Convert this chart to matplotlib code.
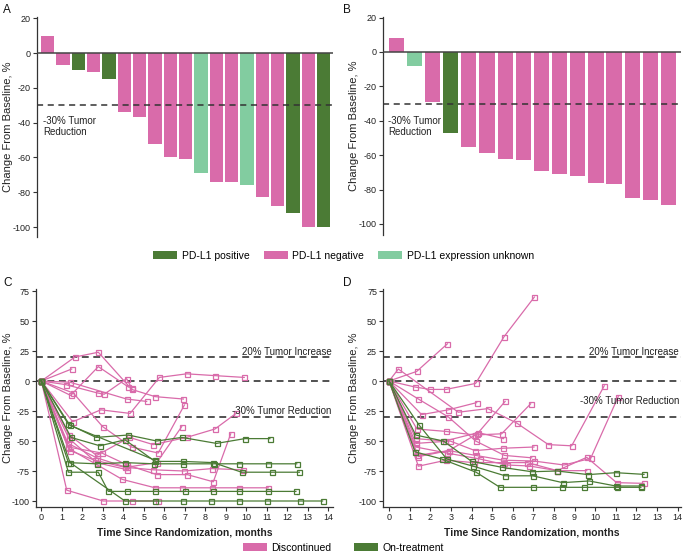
import matplotlib
matplotlib.use("Agg")
import matplotlib.pyplot as plt
from matplotlib.patches import Patch

plt.rcParams['font.family'] = ['Liberation Sans', 'DejaVu Sans']
plt.rcParams['axes.unicode_minus'] = False

PINK = '#D96BAA'
DGREEN = '#4B7B35'
LGREEN = '#82CCA0'
AXC = '#333333'

# ---------------- Data ----------------
a_change = [10, -7, -10, -11, -15, -34, -37, -52, -60, -61, -69, -74, -74, -76, -83, -88, -92, -100, -100]
a_status = ['neg', 'neg', 'pos', 'neg', 'pos', 'neg', 'neg', 'neg', 'neg', 'neg', 'unk', 'neg', 'neg', 'unk',
            'neg', 'neg', 'pos', 'neg', 'pos']
b_change = [8, -8, -29, -47, -55, -59, -62, -63, -69, -71, -72, -76, -77, -85, -86, -89]
b_status = ['neg', 'unk', 'neg', 'pos'] + ['neg'] * 12
status_labels = {'pos': 'PD-L1 positive', 'neg': 'PD-L1 negative', 'unk': 'PD-L1 expression unknown'}

c_disc_months = [
    [0, 1.64, 2.78, 4.41, 5.55, 6.93],
    [0, 1.43, 2.78, 4.25],
    [0, 1.48],
    [0, 1.19, 2.75, 3.07, 4.16, 4.41],
    [0, 1.40, 4.16, 5.14],
    [0, 1.53, 2.90, 4.33, 5.76, 7.09, 8.47, 9.90],
    [0, 1.56, 2.99, 4.40, 5.70, 6.98],
    [0, 1.35, 2.70, 4.30, 5.46, 7.09, 8.47, 9.50],
    [0, 1.40, 2.60, 4.10, 5.63, 6.85],
    [0, 1.30, 2.70, 4.16, 5.46, 6.96, 8.31, 9.82],
    [0, 1.30, 2.95, 4.20, 5.63, 7.12, 8.39, 9.24],
    [0, 1.32, 3.95, 5.55, 6.85, 8.31, 9.66, 11.07],
    [0, 1.24, 3.02, 4.41, 5.70],
    [0, 1.35, 2.70, 4.20],
]
c_disc_change = [
    [0, 20, 24, -7, -13, -15],
    [0, -12, 12, -5],
    [0, 10],
    [0, -3, -10, -11, 2, -6],
    [0, -1, -15, -17],
    [0, -34, -24, -27, 3, 6, 4.5, 3],
    [0, -10, -38, -55, -60, -20],
    [0, -45, -62, -47, -53, -47, -40, -27],
    [0, -58, -66, -72, -68, -38],
    [0, -52, -64, -72, -74, -75, -73, -74],
    [0, -55, -60, -70, -78, -78, -84, -44],
    [0, -56, -82, -89, -89, -89, -89, -89],
    [0, -91, -100, -100, -100],
    [0, -48, -68, -74],
]
c_on_months = [
    [0, 1.32, 2.67, 4.24, 5.63, 6.85, 8.55, 9.93, 11.15],
    [0, 1.45, 2.86, 4.08, 5.55, 6.90, 8.39, 9.77, 11.24, 12.59],
    [0, 1.32, 2.70, 4.08, 5.50, 6.90, 8.40, 9.66, 11.07, 12.46],
    [0, 1.32, 2.78, 3.27, 4.20, 5.55, 7.00, 8.39, 9.66, 11.07, 12.42],
    [0, 1.40, 4.08, 5.55, 6.90, 8.30, 9.66, 11.02, 12.62, 13.72],
    [0, 1.40, 5.55],
]
c_on_change = [
    [0, -36, -47, -45, -50, -47, -52, -48, -48],
    [0, -47, -54, -49, -67, -67, -68, -76, -76, -76],
    [0, -68, -69, -68, -69, -69, -69, -69, -69, -69],
    [0, -76, -76, -92, -92, -92, -92, -92, -92, -92, -92],
    [0, -68, -100, -100, -100, -100, -100, -100, -100, -100],
    [0, -37, -66],
]

d_disc_months = [
    [0, 1.34, 2.83],
    [0, 0.45, 3.36, 4.79, 6.19, 7.73, 8.86, 10.44],
    [0, 1.26, 1.99, 2.76, 4.20, 5.58, 7.05],
    [0, 1.42, 2.88, 4.20, 5.60, 6.92],
    [0, 1.58, 2.88, 4.25],
    [0, 1.35, 2.76, 4.15, 5.46, 6.87],
    [0, 1.42, 2.90, 4.28, 5.63],
    [0, 1.30, 2.70, 4.33, 5.55],
    [0, 1.30, 2.96, 4.17, 5.55, 7.03],
    [0, 1.42, 2.76, 4.10, 5.60, 6.71, 8.16, 9.59, 11.04, 12.37],
    [0, 1.35, 2.90, 4.20, 5.55, 7.03, 8.49, 9.78, 11.12],
    [0, 1.30, 2.80, 4.40, 5.70, 6.80, 8.16, 9.59],
]
d_disc_change = [
    [0, 8, 31],
    [0, 10, -26, -23, -35, -53, -54, -4],
    [0, -5, -7, -7, -2, 37, 70],
    [0, -15, -30, -50, -62, -64],
    [0, -28, -24, -18],
    [0, -40, -42, -45, -44, -19],
    [0, -63, -58, -44, -17],
    [0, -48, -50, -43, -48],
    [0, -52, -50, -58, -56, -55],
    [0, -71, -66, -68, -68, -68, -74.7, -63.6, -84.7, -85.3],
    [0, -62, -58, -62, -66, -66.7, -70, -64.5, -13],
    [0, -55, -60, -65, -70, -70.8, -74.7, -74.7],
]
d_on_months = [
    [0, 1.29, 2.63, 4.01, 5.50, 6.92, 8.16, 9.66, 11.00, 12.37],
    [0, 1.47, 2.80, 4.09, 5.63, 6.97, 8.42, 9.71, 11.00, 12.22],
    [0, 1.26, 2.55, 4.22, 5.38, 6.97, 8.39, 9.46, 11.04, 12.22],
]
d_on_change = [
    [0, -45, -50, -67, -72, -75.6, -75, -78, -76.4, -77.8],
    [0, -37, -65, -71, -79, -79, -84.7, -83.3, -87.5, -87.5],
    [0, -59, -65, -76, -88.6, -88.6, -88.6, -88.6, -88.6, -88.6],
]

waterfall_ticks = [20, 0, -20, -40, -60, -80, -100]
spider_yticks = [75, 50, 25, 0, -25, -50, -75, -100]
spider_xticks = list(range(0, 15))

# ---------------- Figure ----------------
W, H = 683, 555
fig = plt.figure(figsize=(W / 100, H / 100), dpi=100)


def ax_px(l, t, r, b):
    return fig.add_axes([l / W, 1 - b / H, (r - l) / W, (b - t) / H])


colmap = {'pos': DGREEN, 'neg': PINK, 'unk': LGREEN}


def style_axes(ax):
    for s in ['top', 'right']:
        ax.spines[s].set_visible(False)
    for s in ['left', 'bottom']:
        ax.spines[s].set_color(AXC)
        ax.spines[s].set_linewidth(0.9)
    ax.tick_params(axis='both', colors=AXC, labelcolor='#222222', labelsize=6.5, length=3, width=0.8, pad=1.5)


def set_ylabel_px(ax, left_px, width_px, label_x_px):
    ax.set_ylabel('Change From Baseline, %', fontsize=8, color='#222222')
    ax.yaxis.set_label_coords((label_x_px - left_px) / width_px, 0.5)


def waterfall(ax, vals, stats, width, xl, yl, ann_x, ann_y):
    x = list(range(len(vals)))
    ax.bar(x, vals, width=width, color=[colmap[s] for s in stats], edgecolor='none', zorder=2)
    ax.set_xlim(*xl)
    ax.set_ylim(*yl)
    style_axes(ax)
    ax.spines['bottom'].set_visible(False)
    ax.set_xticks([])
    ax.set_yticks(waterfall_ticks)
    ax.axhline(0, color='#444444', lw=1.1, zorder=3)
    ax.axhline(-30, color='#333333', lw=1.1, ls=(0, (4, 3)), zorder=3)
    ax.text(ann_x, ann_y, '-30% Tumor\nReduction', transform=ax.get_yaxis_transform(), fontsize=7,
            va='top', ha='left', color='#222222', linespacing=1.15)


axA = ax_px(37, 17, 333, 237)
waterfall(axA, a_change, a_status, 0.87, (-0.7, 18.6), (-105.7, 20.7), 0.02, -36)
set_ylabel_px(axA, 37, 296, 13)
axB = ax_px(383, 17, 681, 235)
waterfall(axB, b_change, b_status, 0.84, (-0.73, 15.69), (-106.4, 20.3), 0.017, -37)
set_ylabel_px(axB, 383, 298, 359)


def spider(ax, dm, dc, om, oc, xl, inc_y, red_y):
    for xs, ys in zip(dm, dc):
        ax.plot(xs, ys, color=PINK, lw=0.9, marker='s', ms=3.6, mfc='none', mec=PINK, mew=0.9, zorder=3)
    for xs, ys in zip(om, oc):
        ax.plot(xs, ys, color=DGREEN, lw=0.9, marker='s', ms=3.6, mfc='none', mec=DGREEN, mew=0.9, zorder=4)
    ax.set_xlim(*xl)
    ax.set_ylim(-105, 76.7)
    style_axes(ax)
    ax.set_xticks(spider_xticks)
    ax.set_yticks(spider_yticks)
    for yv in [20, 0, -30]:
        ax.axhline(yv, color='#222222', lw=1.1, ls=(0, (4.5, 3)), zorder=2)
    ax.text(0.995, inc_y, '20% Tumor Increase', transform=ax.get_yaxis_transform(), fontsize=7,
            ha='right', va='center', color='#222222')
    ax.text(0.995, red_y, '-30% Tumor Reduction', transform=ax.get_yaxis_transform(), fontsize=7,
            ha='right', va='center', color='#222222')
    ax.set_xlabel('Time Since Randomization, months', fontsize=7.5, fontweight='bold', color='#222222',
                  labelpad=4)


axC = ax_px(36, 289, 333, 507)
spider(axC, c_disc_months, c_disc_change, c_on_months, c_on_change, (-0.26, 14.23), 24.5, -25)
set_ylabel_px(axC, 36, 297, 13)
axD = ax_px(383.3, 289, 680.7, 507)
spider(axD, d_disc_months, d_disc_change, d_on_months, d_on_change, (-0.28, 14.15), 24.5, -17)
set_ylabel_px(axD, 383.3, 297.4, 359)

# panel labels
for lab, (px, py) in zip('ABCD', [(3, 10), (343, 10), (3, 283), (343, 283)]):
    fig.text(px / W, 1 - py / H, lab, fontsize=8.5, ha='left', va='center', color='#111111')

# legends
h1 = [Patch(facecolor=colmap[k], edgecolor='none', label=status_labels[k]) for k in ['pos', 'neg', 'unk']]
fig.legend(handles=h1, loc='center', bbox_to_anchor=(0.503, 1 - 256 / H), ncol=3, frameon=False,
           fontsize=7.5, handlelength=2.3, handleheight=0.8, handletextpad=0.4, columnspacing=1.4)
h2 = [Patch(facecolor=PINK, edgecolor='none', label='Discontinued'),
      Patch(facecolor=DGREEN, edgecolor='none', label='On-treatment')]
fig.legend(handles=h2, loc='center', bbox_to_anchor=(0.503, 1 - 548 / H), ncol=2, frameon=False,
           fontsize=7.5, handlelength=2.3, handleheight=0.8, handletextpad=0.4, columnspacing=2.2)

fig.savefig('out.png', dpi=100)
